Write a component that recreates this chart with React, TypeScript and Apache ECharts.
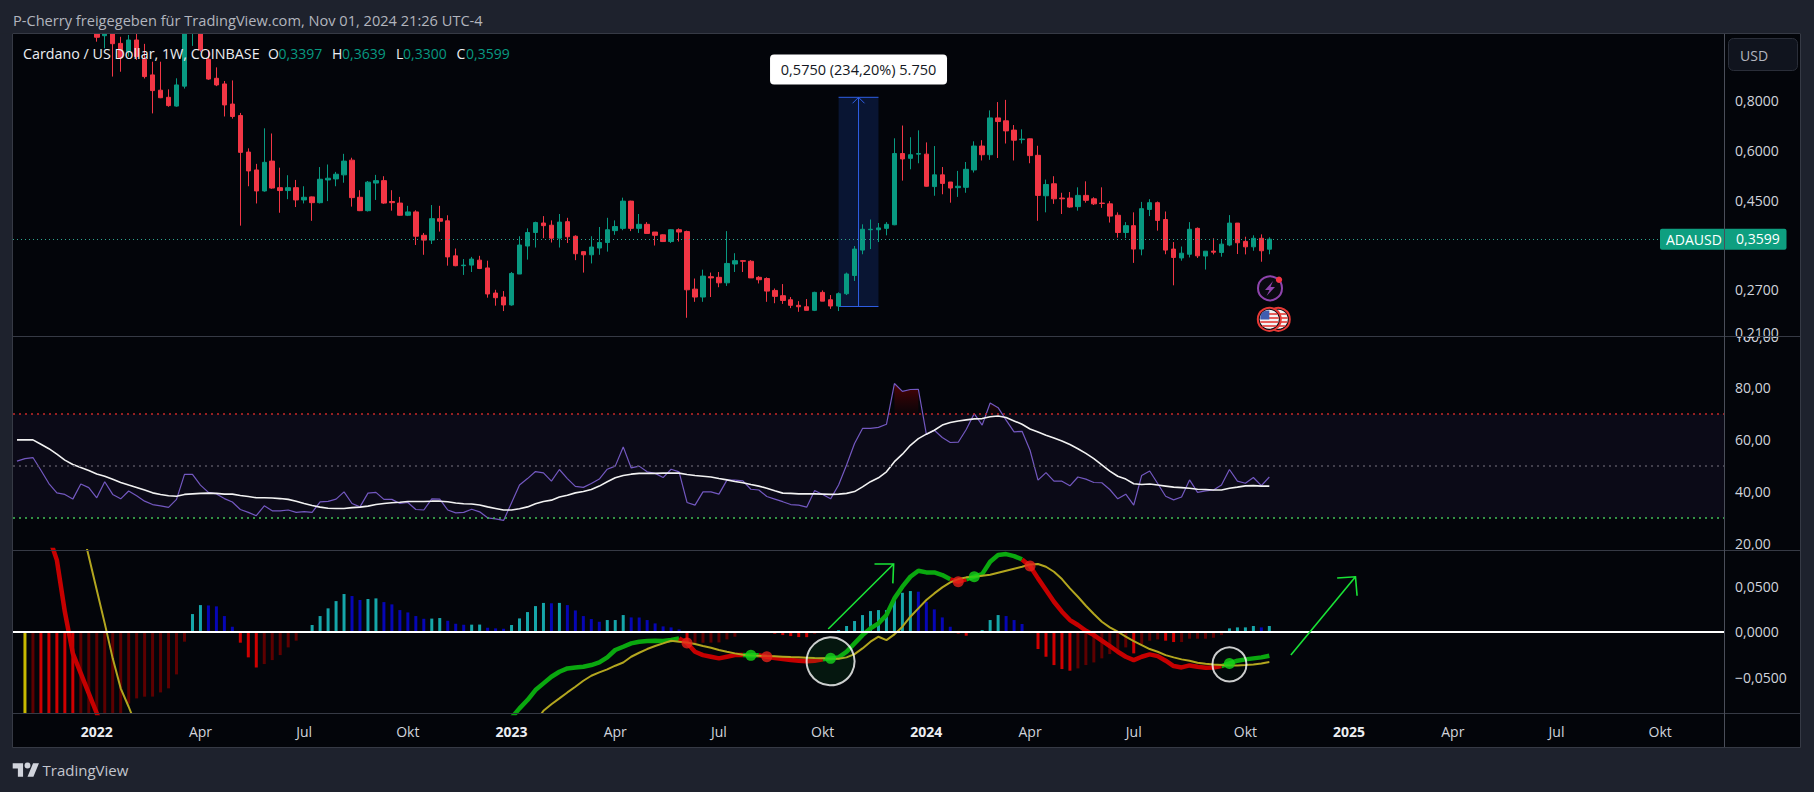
import React, { useEffect, useRef } from "react";
import * as echarts from "echarts";

const FONT = '"Open Sans", sans-serif';
const OUTER = "#1e222d";
const PANEL = "#03050a";
const AXIS_TEXT = "#d1d4dc";
const BORDER = "#363a45";
const UP = "#089981";
const DOWN = "#f23645";

const SLOTS = 215;
const categories: string[] = [];
for (let i = 0, t = Date.UTC(2021, 9, 25); i < SLOTS; i++, t += 7 * 864e5) {
  categories.push(new Date(t).toISOString().slice(0, 10));
}
const xTickIndex = [10, 23, 36, 49, 62, 75, 88, 101, 114, 127, 140, 154, 167, 180, 193, 206];
const xTickLabels = ["2022", "Apr", "Jul", "Okt", "2023", "Apr", "Jul", "Okt", "2024", "Apr", "Jul", "Okt", "2025", "Apr", "Jul", "Okt"];
const priceTicks = [0.8, 0.6, 0.45, 0.27, 0.21];
const rsiTicks = [20, 40, 60, 80];
const macdTicks = [-0.05, 0, 0.05];

const opens = [1.96,1.98,2.02,1.92,1.86,1.55,1.58,1.42,1.30,1.38,
1.36,1.16,1.20,1.11,1.058,1.132,1.013,.926,.848,.814,
.774,.868,1.21,1.25,1.013,.908,.879,.783,.733,.594,
.536,.475,.564,.484,.476,.484,.451,.459,.444,.506,
.509,.521,.567,.458,.424,.497,.504,.447,.443,.413,
.421,.368,.358,.405,.40,.327,.309,.31,.319,.305,
.264,.258,.2465,.2945,.346,.374,.395,.39,.362,.398,
.366,.335,.329,.342,.353,.378,.383,.448,.383,.392,
.375,.369,.355,.38,.376,.27,.258,.29,.289,.28,
.312,.318,.317,.289,.287,.268,.26,.254,.246,.244,
.239,.265,.254,.245,.263,.292,.338,.38,.38,.383,
.391,.589,.573,.587,.587,.487,.521,.5,.484,.485,
.536,.615,.585,.723,.711,.674,.638,.641,.583,.462,
.495,.456,.456,.434,.463,.454,.443,.441,.413,.374,
.389,.34,.427,.444,.403,.34,.323,.33,.383,.3266,
.336,.3334,.348,.3948,.3553,.3444,.3617,.3397];
const highs = [2.06,2.15,2.12,2.02,1.92,1.72,1.68,1.46,1.45,1.48,
1.42,1.25,1.22,1.153,1.165,1.177,1.107,.999,.999,.852,
.908,1.25,1.35,1.28,1.069,.967,.894,.897,.744,.607,
.555,.681,.661,.543,.52,.506,.488,.46,.545,.553,
.53,.588,.575,.477,.503,.521,.517,.477,.459,.436,
.425,.373,.438,.436,.413,.341,.321,.325,.327,.318,
.269,.267,.298,.366,.383,.398,.411,.401,.416,.407,
.368,.335,.366,.386,.407,.401,.457,.449,.416,.397,
.375,.37,.381,.383,.378,.287,.302,.297,.298,.377,
.332,.319,.319,.291,.289,.271,.278,.258,.252,.255,
.266,.268,.261,.265,.297,.346,.392,.403,.395,.397,
.643,.692,.647,.673,.628,.615,.545,.5,.533,.561,
.632,.636,.755,.792,.802,.694,.677,.642,.616,.507,
.517,.47,.472,.485,.502,.458,.485,.448,.42,.397,
.42,.446,.453,.447,.422,.354,.345,.397,.385,.336,
.3617,.358,.4134,.3948,.365,.368,.37,.3639];
const lows = [1.88,1.92,1.87,1.78,1.45,1.48,1.28,1.20,1.27,1.33,
1.121,1.079,.917,.943,1.029,1.009,.907,.742,.81,.771,
.771,.856,1.094,1.058,.90,.868,.729,.72,.389,.488,
.442,.473,.481,.419,.453,.433,.442,.40,.442,.448,
.488,.498,.434,.423,.422,.451,.441,.424,.412,.411,
.348,.329,.35,.376,.309,.308,.293,.298,.303,.257,
.2455,.238,.2455,.2945,.32,.343,.362,.353,.343,.352,
.319,.297,.313,.329,.335,.369,.379,.377,.373,.372,
.347,.354,.352,.355,.229,.251,.251,.258,.273,.275,
.298,.298,.288,.279,.251,.249,.248,.242,.237,.239,
.238,.252,.241,.238,.261,.283,.33,.34,.354,.368,
.39,.504,.538,.557,.487,.462,.466,.444,.459,.47,
.528,.566,.568,.574,.624,.566,.624,.557,.40,.42,
.441,.416,.431,.424,.444,.438,.431,.396,.363,.362,
.314,.328,.411,.378,.33,.276,.318,.324,.323,.3022,
.3297,.3254,.3457,.3304,.3297,.3367,.3161,.33];
const closes = [1.98,2.02,1.92,1.86,1.55,1.58,1.42,1.30,1.38,1.36,
1.15,1.19,1.108,1.022,1.132,1.029,.917,.846,.812,.776,
.874,1.19,1.30,1.069,.904,.874,.779,.729,.593,.533,
.475,.56,.483,.476,.484,.451,.458,.444,.508,.511,
.523,.564,.457,.424,.4996,.504,.443,.444,.413,.421,
.366,.358,.405,.399,.325,.309,.31,.321,.304,.2626,
.257,.2465,.2955,.348,.374,.396,.389,.362,.397,.365,
.331,.329,.344,.353,.38,.387,.448,.383,.392,.372,
.368,.355,.38,.375,.269,.258,.291,.288,.28,.313,
.318,.317,.288,.285,.267,.259,.253,.246,.244,.239,
.265,.252,.245,.263,.2946,.34,.381,.381,.384,.392,
.589,.571,.585,.589,.488,.521,.496,.483,.488,.538,
.615,.585,.723,.708,.671,.636,.64,.582,.463,.493,
.454,.454,.433,.463,.45,.441,.442,.411,.374,.389,
.34,.429,.444,.401,.338,.324,.332,.381,.327,.3359,
.334,.3498,.3948,.3525,.3444,.3617,.3367,.3599];

const rsi = [51.8,52.8,53.2,48.3,43.2,39.6,39,37.2,43,41.6,
37.7,43.9,39,37.3,40.3,38.5,36.4,35.1,34.6,34,
37.1,46.7,46.7,42.6,39.8,39.2,37.4,36.1,33.2,32.1,
30.8,34.6,32.7,32.7,33,32.1,32.4,32.1,36.1,36.3,
37.2,40,35.5,34.2,39.5,39.8,37.1,37.1,35.5,35.9,
33.2,33,37.3,37.2,33,31.9,32.1,33.3,32.3,30,
29.6,29,35.8,42.6,45.1,47.8,47.3,44.1,48.6,45.1,
42.1,41.7,43.2,44.9,48.7,49.9,57.3,49.2,49.9,47.7,
47.1,45.5,48.7,47.7,35.9,34.9,40,40,39.1,44.5,
44.5,44.2,41,40.7,38.2,37.2,36.2,35.1,34.9,34.1,
40.5,39,37.3,42.6,50.3,58.6,64.4,64.4,64.8,66,
81.7,78.7,79.4,79.5,62.2,63.7,60.9,59,59.1,64,
70.1,65.7,74.2,72.4,67.6,63.1,63.3,56,44.5,47.4,
44.1,44.1,42.3,45.7,44.9,43.6,43.5,40.9,37.3,39.1,
34.9,46.3,48,43.2,38.3,36.9,38,44.6,39.8,40.4,
40.7,42.6,48.6,44.1,43.3,45.5,42.4,45.7];
const rsiAverage = [60,60,60,58.3,56.6,54.5,52.2,50.5,49.4,48.2,
46.9,46,44.8,43.6,42.6,41.7,40.7,39.6,39,38.5,
38.3,39,39.2,39.4,39.5,39.4,39.1,39.1,38.6,38.2,
37.7,37.7,37.6,37.4,37.1,36.4,35.5,34.7,34.1,33.7,
33.6,33.6,33.9,34.1,34.5,35.1,35.5,35.8,36,36.3,
36.3,36.3,36.4,36.4,36.2,35.7,35.4,35.3,34.9,34.2,
33.6,33,33,33.5,34.2,35.4,36.3,36.8,38,38.7,
39.6,40.1,40.9,42.2,43.9,45.4,46.3,46.8,47.1,47.1,
47.1,47.2,47.2,47.2,46.7,46.3,46,45.7,45.1,44.6,
44,43.5,42.8,42.2,41.4,40.4,39.5,39.4,39.2,39.2,
39.2,39.1,39,39.1,39.4,40.1,41.9,43.9,45.4,47.7,
51.6,54.5,57.9,60.5,62.2,63.7,65.7,66.7,67.3,67.7,
68.1,68.2,68.9,69.2,68.6,67.3,66,64.2,63,61.8,
60.7,59.6,58.2,56.6,54.8,52.8,50.4,48,46,44.9,
43.1,42.8,43,42.6,42.2,41.8,41.6,41.4,41,40.9,
40.7,40.7,41.4,41.8,42.3,42.4,42.2,42.2];
const rsiLevels = [70, 50, 30];

const histogram = [null,-.105,-.10,-.11,-.12,-.13,-.135,-.14,-.135,-.13,
-.125,-.12,-.11,-.10,-.0791,-.0736,-.0717,-.0716,-.067,-.0625,
-.0471,-.011,.0195,.0294,.029,.028,.0173,.0055,-.0121,-.0283,
-.0394,-.0357,-.0313,-.0258,-.0173,-.0099,0,.0074,.0173,.0258,
.0338,.0416,.0394,.035,.0361,.0368,.0327,.0302,.0239,.0213,
.0173,.0143,.0145,.0151,.0121,.0088,.0077,.0078,.0079,.0044,
.0037,.0033,.0074,.0147,.0217,.0283,.0318,.0314,.0318,.0294,
.0235,.0173,.014,.011,.0129,.0129,.0184,.0158,.0157,.0129,
.0092,.0059,.0048,.0026,-.0132,-.0125,-.0122,-.012,-.0118,-.0085,
-.0055,-.0012,-.0002,0,-.0005,-.0022,-.0037,-.0048,-.0059,-.006,
-.0026,-.0006,.0007,.0018,.0063,.0118,.0184,.0228,.0239,.0239,
.0368,.043,.0449,.0442,.0331,.0247,.0158,.0055,-.002,-.0044,
-.0005,.0018,.0129,.0184,.0173,.0129,.0085,-.0015,-.0191,-.0276,
-.0368,-.0412,-.043,-.0405,-.0368,-.0339,-.0294,-.0247,-.0221,-.0173,
-.0239,-.014,-.0099,-.0085,-.0099,-.0114,-.0114,-.0077,-.0077,-.0077,
-.0066,-.0037,.0037,.0048,.0048,.0063,.0048,.0063];

const macd = [.19,.17,.155,.13,.105,.079,.022,-.0239,-.046,-.068,
-.09,-.115,null,null,null,null,null,null,null,null,
null,null,null,null,null,null,null,null,null,null,
null,null,null,null,null,null,null,null,null,null,
null,null,null,null,null,null,null,null,null,null,
null,null,null,null,null,null,null,null,null,null,
null,-.105,-.095,-.0846,-.0754,-.0644,-.057,-.0497,-.0442,-.0405,
-.0394,-.0386,-.0368,-.0339,-.0283,-.0202,-.0166,-.0129,-.011,-.0103,
-.0099,-.0103,-.0092,-.0074,-.0125,-.0221,-.0258,-.0276,-.0294,-.0276,
-.0258,-.0258,-.0261,-.026,-.0276,-.0291,-.0302,-.0313,-.032,-.0327,
-.032,-.0305,-.0294,-.0283,-.0221,-.0129,-.0037,.0037,.0092,.0184,
.0368,.0497,.0607,.0673,.0655,.0655,.0625,.0578,.0552,.0578,
.0607,.0636,.0773,.0846,.0857,.0835,.0798,.0725,.0589,.046,
.0331,.0221,.0129,.0074,.0011,-.0037,-.0099,-.0158,-.0221,-.0276,
-.0313,-.0276,-.025,-.0269,-.032,-.0379,-.0394,-.0372,-.0386,-.0397,
-.0394,-.0379,-.035,-.032,-.0305,-.0294,-.0283,-.0265];
const signal = [.30,.28,.25,.22,.19,.17,.155,.14,.12,.083,
.046,.0092,-.0294,-.0625,-.0828,-.105,null,null,null,null,
null,null,null,null,null,null,null,null,null,null,
null,null,null,null,null,null,null,null,null,null,
null,null,null,null,null,null,null,null,null,null,
null,null,null,null,null,null,null,null,null,null,
null,-.13,-.125,-.12,-.115,-.1,-.0872,-.08,-.0736,-.067,
-.0607,-.0541,-.0486,-.0449,-.0416,-.0375,-.034,-.0276,-.0232,-.0191,
-.0158,-.0129,-.0099,-.011,-.0118,-.0136,-.0158,-.0177,-.0202,-.0221,
-.0239,-.0254,-.0261,-.0265,-.0269,-.0272,-.0276,-.028,-.0283,-.0287,
-.0291,-.0294,-.0298,-.0298,-.0283,-.0247,-.0184,-.011,-.0055,-.0092,
-.0029,.0055,.0166,.0258,.035,.0423,.0489,.0545,.0581,.06,
.0607,.0618,.0629,.0651,.0673,.0695,.0717,.0743,.0747,.0717,
.0662,.0581,.0478,.0386,.0287,.0195,.011,.0048,0,-.0055,
-.0103,-.0147,-.0191,-.0221,-.0258,-.0283,-.0305,-.032,-.0342,-.0353,
-.0361,-.0368,-.0372,-.0372,-.0368,-.0361,-.035,-.0335];
const bullCrossings = [92, 102, 120, 152];
const bearCrossings = [84, 94, 118, 127];
const highlightRings = [[102, -0.0327, 48, 1], [152, -0.036, 34, 0]];
const trendArrows = [
  [101.7, 0.003, 109.9, 0.0747, 107.5, 0.0747, 109.8, 0.0534],
  [159.7, -0.0257, 167.8, 0.0607, 165.5, 0.0593, 168, 0.0397],
];
const rulerRange = [103, 108, 0.814, 0.2443];
const lastPrice = 0.3599;

const comma = (v: number, d: number) => (v < 0 ? "\u2212" : "") + Math.abs(v).toFixed(d).replace(".", ",");

const isBull = (i: number) => (macd[i] as number) >= (signal[i] as number);
const macdBull = macd.map((v, i) => (v != null && signal[i] != null && (isBull(i) || (macd[i + 1] != null && isBull(i + 1))) ? v : null));
const macdBear = macd.map((v, i) => (v != null && signal[i] != null && (!isBull(i) || (macd[i + 1] != null && !isBull(i + 1))) ? v : null));
const overbought = rsi.map((v, i) => ((i >= 110 && i <= 113) || i === 122 || i === 123 ? v : null));

function histColor(p: any) {
  const i = p.dataIndex;
  const v = histogram[i] as number;
  const prev = histogram[i - 1];
  if (prev == null) return "#c8b900";
  if (v >= 0) return v >= prev ? "#16a6aa" : "#0606b4";
  return v < prev ? "#cf0000" : "#5e0000";
}

function at(api: any, i: number, v: number) {
  const f = Math.floor(i);
  const a = api.coord([f, v]);
  const b = api.coord([f + 1, v]);
  return [a[0] + (i - f) * (b[0] - a[0]), a[1]];
}

const hiddenX = (gridIndex: number, show = false) => ({
  type: "category",
  gridIndex,
  data: categories,
  boundaryGap: true,
  axisLine: { show: false },
  axisTick: { show: false },
  splitLine: { show: false },
  axisLabel: show
    ? {
        show: true,
        margin: 11,
        hideOverlap: false,
        interval: (i: number) => xTickIndex.includes(i),
        formatter: (_: string, i: number) => {
          const k = xTickIndex.indexOf(i);
          if (k < 0) return "";
          const s = xTickLabels[k];
          return /^\d/.test(s) ? `{y|${s}}` : `{m|${s}}`;
        },
        rich: {
          y: { fontFamily: FONT, fontSize: 14, fontWeight: 700, color: "#eceef2" },
          m: { fontFamily: FONT, fontSize: 14, color: AXIS_TEXT },
        },
      }
    : { show: false },
});

function buildOption(): any {
  const textEl = (text: string, x: number, y: number, fill: string, size = 14, z = 4, extra: any = {}) => ({
    type: "text",
    z,
    silent: true,
    style: { text, x, y, fill, font: `${size}px ${FONT}`, verticalAlign: "middle", ...extra },
  });
  const line = (x1: number, y1: number, x2: number, y2: number, stroke = BORDER, w = 1, z = 20) => ({
    type: "line",
    z,
    silent: true,
    shape: { x1, y1, x2, y2 },
    style: { stroke, lineWidth: w },
  });

  const graphics: any[] = [
    { type: "rect", z: -10, silent: true, shape: { x: 12.5, y: 33.5, width: 1788, height: 714 }, style: { fill: PANEL, stroke: BORDER, lineWidth: 1 } },
    // candles that run off the top of the price pane stop at the pane's edge
    { type: "rect", z: 3, silent: true, shape: { x: 0, y: 0, width: 1814, height: 33.5 }, style: { fill: OUTER } },
    textEl("100,00", 1735, 336, AXIS_TEXT, 14, -9),
    { type: "rect", z: -8, silent: true, shape: { x: 1725, y: 320, width: 75, height: 16 }, style: { fill: PANEL } },
    { type: "rect", z: 8, silent: true, shape: { x: 1725, y: 34, width: 4, height: 679 }, style: { fill: PANEL } },
    line(13, 33.5, 1800, 33.5),
    line(13, 336.5, 1800, 336.5),
    line(13, 550.5, 1800, 550.5),
    line(13, 713.5, 1800, 713.5),
    line(1724.5, 34, 1724.5, 747, "#4a4e59"),
    textEl("P-Cherry freigegeben für TradingView.com, Nov 01, 2024 21:26 UTC-4", 13, 20, "#b2b5be", 14.6),
    textEl("Cardano / US Dollar, 1W, COINBASE", 23, 53.5, "#eceef2", 14.3),
    textEl("O", 268, 53.5, "#eceef2", 14),
    textEl("0,3397", 278.5, 53.5, UP, 14),
    textEl("H", 332, 53.5, "#eceef2", 14),
    textEl("0,3639", 342, 53.5, UP, 14),
    textEl("L", 396, 53.5, "#eceef2", 14),
    textEl("0,3300", 403, 53.5, UP, 14),
    textEl("C", 456.5, 53.5, "#eceef2", 14),
    textEl("0,3599", 466, 53.5, UP, 14),
    { type: "rect", z: 9, silent: true, shape: { x: 1728.5, y: 38.5, width: 69, height: 32, r: 5 }, style: { fill: "#10141e", stroke: "#2a2e39", lineWidth: 1 } },
    textEl("USD", 1740, 55, "#b2b5be", 14, 10),
    { type: "tvLogo", z: 4, silent: true, x: 12.7, y: 760.4, scaleX: 0.74, scaleY: 0.74, style: { fill: "#d1d4dc" } },
    textEl("TradingView", 42.5, 770, "#c3c6ce", 15),
    // event icons
    { type: "circle", z: 6, silent: true, shape: { cx: 1270, cy: 288.3, r: 12 }, style: { fill: "#0a0a12", stroke: "#8e44ad", lineWidth: 2 } },
    { type: "polygon", z: 7, silent: true, shape: { points: [[1273, 281], [1265, 290], [1269.5, 290], [1266.5, 296], [1275, 287], [1270.5, 287]] }, style: { fill: "#8e44ad" } },
    { type: "circle", z: 7, silent: true, shape: { cx: 1279, cy: 279.7, r: 3.2 }, style: { fill: "#f23645" } },
    ...[1278.3, 1269.3].flatMap((cx) => [
      { type: "circle", z: 6, silent: true, shape: { cx, cy: 319.3, r: 11.5 }, style: { fill: "#0a0a12", stroke: "#e53935", lineWidth: 2 } },
      { type: "circle", z: 6, silent: true, shape: { cx, cy: 319.3, r: 9.5 }, style: { fill: "#f3f3f3" } },
      { type: "line", z: 6, silent: true, shape: { x1: cx - 1, y1: 314, x2: cx + 8, y2: 314 }, style: { stroke: "#e53935", lineWidth: 1.6 } },
      { type: "line", z: 6, silent: true, shape: { x1: cx - 1, y1: 318, x2: cx + 9.3, y2: 318 }, style: { stroke: "#e53935", lineWidth: 1.6 } },
      { type: "line", z: 6, silent: true, shape: { x1: cx - 9, y1: 322, x2: cx + 9, y2: 322 }, style: { stroke: "#e53935", lineWidth: 1.6 } },
      { type: "line", z: 6, silent: true, shape: { x1: cx - 7, y1: 326, x2: cx + 7, y2: 326 }, style: { stroke: "#e53935", lineWidth: 1.6 } },
      { type: "rect", z: 6, silent: true, shape: { x: cx - 9, y: 310.5, width: 9, height: 9, r: [7, 0, 0, 0] }, style: { fill: "#3f5db0" } },
    ]),
  ];

  const priceLabels = {
    type: "custom",
    xAxisIndex: 0,
    yAxisIndex: 0,
    z: 9,
    silent: true,
    encode: { x: 0, y: 1 },
    data: priceTicks.map((v) => [0, v]),
    renderItem: (params: any, api: any) => {
      const v = api.value(1);
      const y = api.coord([0, v])[1];
      return {
        type: "text",
        x: 1735,
        y,
        style: { text: comma(v, 4), fill: AXIS_TEXT, font: `14px ${FONT}`, verticalAlign: "middle" },
      };
    },
  };

  const lastPriceTag = {
    type: "custom",
    xAxisIndex: 0,
    yAxisIndex: 0,
    z: 9,
    silent: true,
    encode: { x: 0, y: 1 },
    data: [[0, lastPrice]],
    renderItem: (params: any, api: any) => {
      const v = api.value(1);
      const y = api.coord([0, v])[1];
      return {
        type: "group",
        children: [
          { type: "rect", shape: { x: 1660, y: y - 10.5, width: 126.5, height: 21, r: 2 }, style: { fill: "#0e9f80" } },
          { type: "text", x: 1666, y, style: { text: "ADAUSD", fill: "#ffffff", font: `14px ${FONT}`, verticalAlign: "middle" } },
          { type: "text", x: 1736, y: y - 1, style: { text: comma(v, 4), fill: "#ffffff", font: `14px ${FONT}`, verticalAlign: "middle" } },
        ],
      };
    },
  };

  const ruler = {
    type: "custom",
    xAxisIndex: 0,
    yAxisIndex: 0,
    z: 1,
    silent: true,
    encode: { x: 0, y: 2 },
    data: [rulerRange],
    renderItem: (params: any, api: any) => {
      const [a, b, hi, lo] = [api.value(0), api.value(1), api.value(2), api.value(3)];
      const p0 = api.coord([a, hi]);
      const p1 = api.coord([b, lo]);
      const cx = (p0[0] + p1[0]) / 2;
      const blue = "#2f5fe6";
      return {
        type: "group",
        children: [
          { type: "rect", shape: { x: p0[0], y: p0[1], width: p1[0] - p0[0], height: p1[1] - p0[1] }, style: { fill: "rgba(41,98,255,0.17)" } },
          { type: "line", shape: { x1: p0[0], y1: p0[1], x2: p1[0], y2: p0[1] }, style: { stroke: blue, lineWidth: 1 } },
          { type: "line", shape: { x1: p0[0], y1: p1[1], x2: p1[0], y2: p1[1] }, style: { stroke: blue, lineWidth: 1 } },
          { type: "line", shape: { x1: cx, y1: p0[1], x2: cx, y2: p1[1] }, style: { stroke: blue, lineWidth: 1 } },
          { type: "polyline", shape: { points: [[cx - 6, p0[1] + 6], [cx, p0[1]], [cx + 6, p0[1] + 6]] }, style: { fill: "none", stroke: blue, lineWidth: 1 } },
          { type: "rect", shape: { x: cx - 88.5, y: 54.5, width: 177, height: 30, r: 4 }, style: { fill: "#ffffff" } },
          { type: "text", x: cx, y: 69.5, style: { text: "0,5750 (234,20%) 5.750", fill: "#131722", font: `14.5px ${FONT}`, align: "center", verticalAlign: "middle" } },
        ],
      };
    },
  };

  const arrows = {
    type: "custom",
    xAxisIndex: 2,
    yAxisIndex: 2,
    z: 7,
    silent: true,
    encode: { x: 0, y: 1 },
    data: trendArrows,
    renderItem: (params: any, api: any) => {
      const v = (k: number) => api.value(k);
      const tail = at(api, v(0), v(1));
      const tip = at(api, v(2), v(3));
      const h1 = at(api, v(4), v(5));
      const h2 = at(api, v(6), v(7));
      const style = { fill: "none", stroke: "#19e336", lineWidth: 1.6 };
      return {
        type: "group",
        children: [
          { type: "line", shape: { x1: tail[0], y1: tail[1], x2: tip[0], y2: tip[1] }, style },
          { type: "polyline", shape: { points: [h1, tip, h2] }, style },
        ],
      };
    },
  };

  return {
    animation: false,
    backgroundColor: OUTER,
    tooltip: { show: false },
    graphic: { elements: graphics },
    grid: [
      { left: 13, width: 1715, top: 34, height: 302, show: false },
      { left: 13, width: 1715, top: 336, height: 214, show: false },
      { left: 13, width: 1715, top: 550, height: 163, show: false },
    ],
    xAxis: [hiddenX(0), hiddenX(1), hiddenX(2, true)],
    yAxis: [
      { type: "log", logBase: 10, gridIndex: 0, min: 0.2062, max: 1.1716, position: "right", axisLine: { show: false }, axisTick: { show: false }, splitLine: { show: false }, minorSplitLine: { show: false }, axisLabel: { show: false } },
      { type: "value", gridIndex: 1, min: 17.6, max: 100, position: "right", z: 9, axisLine: { show: false }, axisTick: { show: false }, splitLine: { show: false },
        axisLabel: { customValues: rsiTicks, align: "left", margin: 7, color: AXIS_TEXT, fontFamily: FONT, fontSize: 14, formatter: (v: number) => comma(v, 2) } },
      { type: "value", gridIndex: 2, min: -0.0897, max: 0.0902, position: "right", z: 9, axisLine: { show: false }, axisTick: { show: false }, splitLine: { show: false },
        axisLabel: { customValues: macdTicks, align: "left", margin: 7, color: AXIS_TEXT, fontFamily: FONT, fontSize: 14, formatter: (v: number) => comma(v, 4) } },
    ],
    series: [
      ruler,
      {
        type: "candlestick",
        name: "ADAUSD",
        xAxisIndex: 0,
        yAxisIndex: 0,
        z: 2,
        barWidth: 5,
        silent: true,
        itemStyle: { color: UP, color0: DOWN, borderColor: UP, borderColor0: DOWN, borderWidth: 1 },
        data: opens.map((o, i) => [o, closes[i], lows[i], highs[i]]),
        markLine: {
          silent: true,
          symbol: "none",
          label: { show: false },
          lineStyle: { color: "#2fa58f", type: [1, 3], width: 1 },
          data: [{ yAxis: lastPrice }],
        },
      },
      priceLabels,
      lastPriceTag,
      {
        type: "line",
        name: "Overbought",
        xAxisIndex: 1,
        yAxisIndex: 1,
        z: 1,
        symbol: "none",
        silent: true,
        lineStyle: { width: 0 },
        areaStyle: {
          origin: 70,
          color: new echarts.graphic.LinearGradient(0, 0, 0, 1, [
            { offset: 0, color: "rgba(140,0,0,0.8)" },
            { offset: 1, color: "rgba(90,0,0,0.15)" },
          ]),
        },
        data: overbought,
      },
      {
        type: "line",
        name: "RSI",
        xAxisIndex: 1,
        yAxisIndex: 1,
        z: 3,
        symbol: "none",
        silent: true,
        lineStyle: { color: "#7358c0", width: 1.2 },
        data: rsi,
        markArea: {
          silent: true,
          itemStyle: { color: "rgba(126,87,194,0.075)" },
          data: [[{ yAxis: rsiLevels[0] }, { yAxis: rsiLevels[2] }]],
        },
        markLine: {
          silent: true,
          symbol: "none",
          label: { show: false },
          data: [
            { yAxis: rsiLevels[0], lineStyle: { color: "#c62828", type: [2, 4], width: 1.5 } },
            { yAxis: rsiLevels[1], lineStyle: { color: "#55525f", type: [2, 4], width: 1.5 } },
            { yAxis: rsiLevels[2], lineStyle: { color: "#43c05a", type: [2, 4], width: 1.5 } },
          ],
        },
      },
      {
        type: "line",
        name: "RSI average",
        xAxisIndex: 1,
        yAxisIndex: 1,
        z: 4,
        symbol: "none",
        silent: true,
        lineStyle: { color: "#f2f2f2", width: 1.6 },
        data: rsiAverage,
      },
      {
        type: "bar",
        name: "Histogram",
        xAxisIndex: 2,
        yAxisIndex: 2,
        z: 1,
        barWidth: 3,
        silent: true,
        itemStyle: { color: histColor },
        data: histogram,
      },
      {
        type: "line",
        name: "MACD bull",
        xAxisIndex: 2,
        yAxisIndex: 2,
        z: 3,
        symbol: "none",
        silent: true,
        lineStyle: { color: "#0aa80f", width: 4.5 },
        data: macdBull,
      },
      {
        type: "line",
        name: "MACD bear",
        xAxisIndex: 2,
        yAxisIndex: 2,
        z: 3,
        symbol: "none",
        silent: true,
        lineStyle: { color: "#c60000", width: 4.5 },
        data: macdBear,
      },
      {
        type: "line",
        name: "Signal",
        xAxisIndex: 2,
        yAxisIndex: 2,
        z: 4,
        symbol: "none",
        silent: true,
        lineStyle: { color: "#b3a61f", width: 2 },
        data: signal,
        markLine: {
          silent: true,
          symbol: "none",
          label: { show: false },
          lineStyle: { color: "#ffffff", type: "solid", width: 2 },
          data: [{ yAxis: 0 }],
        },
      },
      {
        type: "scatter",
        name: "Bull crossings",
        xAxisIndex: 2,
        yAxisIndex: 2,
        z: 5,
        symbolSize: 11,
        silent: true,
        itemStyle: { color: "#16d318" },
        data: bullCrossings.map((i) => [i, macd[i]]),
      },
      {
        type: "scatter",
        name: "Bear crossings",
        xAxisIndex: 2,
        yAxisIndex: 2,
        z: 5,
        symbolSize: 11,
        silent: true,
        itemStyle: { color: "#e6201a" },
        data: bearCrossings.map((i) => [i, macd[i]]),
      },
      {
        type: "scatter",
        name: "Highlights",
        xAxisIndex: 2,
        yAxisIndex: 2,
        z: 6,
        silent: true,
        symbolSize: (d: any) => d[2],
        itemStyle: {
          color: (p: any) => (p.data[3] ? "rgba(30,200,60,0.12)" : "rgba(30,200,60,0.03)"),
          borderColor: "#ffffff",
          borderWidth: 2,
        },
        data: highlightRings,
      },
      arrows,
    ],
  };
}

export default function App() {
  const ref = useRef<HTMLDivElement>(null);
  useEffect(() => {
    document.body.style.margin = "0";
    echarts.graphic.registerShape(
      "tvLogo",
      echarts.graphic.extendPath("M14 22H7V11H0V4h14v18zM28 22h-8l7.5-18h8L28 22zM16 7a4 4 0 1 0 8 0a4 4 0 1 0-8 0z", {}) as any
    );
    const chart = echarts.init(ref.current as HTMLDivElement, undefined, { renderer: "svg" });
    chart.setOption(buildOption());
    return () => chart.dispose();
  }, []);
  return <div ref={ref} style={{ position: "absolute", left: 0, top: 0, width: 1814, height: 792 }} />;
}
